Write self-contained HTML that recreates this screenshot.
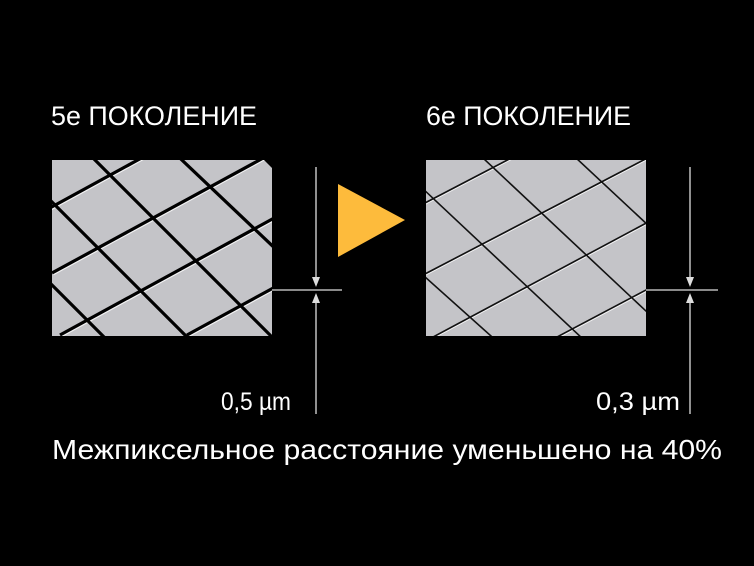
<!DOCTYPE html>
<html><head><meta charset="utf-8"><style>
html,body{margin:0;padding:0;background:#000;}
svg{display:block;}
text{font-family:"Liberation Sans","DejaVu Sans",sans-serif;fill:#fff;}
</style></head><body>
<svg width="754" height="566" viewBox="0 0 754 566" xmlns="http://www.w3.org/2000/svg">
<rect width="754" height="566" fill="#000"/>
<defs>
<clipPath id="c1"><polygon points="52,160 264,160 272,168 272,336 52,336"/></clipPath>
<clipPath id="c2"><rect x="426" y="160" width="220" height="176"/></clipPath>
</defs>
<g clip-path="url(#c1)">
<rect x="52" y="160" width="220" height="176" fill="#c4c4c8"/>
<g stroke="#fff" stroke-width="1.5" transform="translate(1.5,1.5)" opacity="0.8">
<line x1="-60" y1="268" x2="200" y2="126"/>
<line x1="52" y1="273" x2="300" y2="138"/>
<line x1="60" y1="335" x2="320" y2="193"/>
<line x1="187" y1="335" x2="330" y2="257"/>
<line x1="60" y1="125" x2="290" y2="355"/>
<line x1="-10" y1="140" x2="230" y2="380"/>
<line x1="20" y1="253" x2="120" y2="353"/>
<line x1="145" y1="125" x2="340" y2="310"/>
<line x1="230" y1="125" x2="330" y2="220"/>
</g>
<g stroke="#000" stroke-width="3.2">
<line x1="-60" y1="268" x2="200" y2="126"/>
<line x1="52" y1="273" x2="300" y2="138"/>
<line x1="60" y1="335" x2="320" y2="193"/>
<line x1="187" y1="335" x2="330" y2="257"/>
<line x1="60" y1="125" x2="290" y2="355"/>
<line x1="-10" y1="140" x2="230" y2="380"/>
<line x1="20" y1="253" x2="120" y2="353"/>
<line x1="145" y1="125" x2="340" y2="310"/>
<line x1="230" y1="125" x2="330" y2="220"/>
</g>
</g>
<g clip-path="url(#c2)">
<rect x="426" y="160" width="220" height="176" fill="#c4c4c8"/>
<g stroke="#fff" stroke-width="1" transform="translate(1,1)" opacity="0.8">
<line x1="400" y1="216" x2="540" y2="143"/>
<line x1="400" y1="287" x2="680" y2="141"/>
<line x1="420" y1="344" x2="680" y2="205"/>
<line x1="540" y1="346" x2="680" y2="272"/>
<line x1="467" y1="143" x2="680" y2="343"/>
<line x1="405" y1="172" x2="600" y2="355"/>
<line x1="405" y1="259" x2="510" y2="353"/>
<line x1="560" y1="143" x2="680" y2="255"/>
</g>
<g stroke="#111" stroke-width="1.6">
<line x1="400" y1="216" x2="540" y2="143"/>
<line x1="400" y1="287" x2="680" y2="141"/>
<line x1="420" y1="344" x2="680" y2="205"/>
<line x1="540" y1="346" x2="680" y2="272"/>
<line x1="467" y1="143" x2="680" y2="343"/>
<line x1="405" y1="172" x2="600" y2="355"/>
<line x1="405" y1="259" x2="510" y2="353"/>
<line x1="560" y1="143" x2="680" y2="255"/>
</g>
</g>
<polygon points="338,184 405,220 338,257" fill="#fdbb3c"/>
<g stroke="#ddd" stroke-width="1.3" fill="none">
<line x1="316" y1="167" x2="316" y2="284"/>
<line x1="316" y1="298" x2="316" y2="414"/>
<line x1="272" y1="290" x2="342" y2="290"/>
<line x1="690" y1="167" x2="690" y2="284"/>
<line x1="690" y1="298" x2="690" y2="414"/>
<line x1="646" y1="290" x2="718" y2="290"/>
</g>
<g fill="#ddd">
<polygon points="312,277 320,277 316,287"/>
<polygon points="312,303 320,303 316,293"/>
<polygon points="686,277 694,277 690,287"/>
<polygon points="686,303 694,303 690,293"/>
</g>
<text x="51" y="125" font-size="27" textLength="206" lengthAdjust="spacingAndGlyphs">5e ПОКОЛЕНИЕ</text>
<text x="426" y="125" font-size="27" textLength="205" lengthAdjust="spacingAndGlyphs">6e ПОКОЛЕНИЕ</text>
<text x="221" y="410" font-size="25" textLength="70" lengthAdjust="spacingAndGlyphs">0,5 µm</text>
<text x="596" y="410" font-size="25" textLength="84" lengthAdjust="spacingAndGlyphs">0,3 µm</text>
<text x="52" y="459" font-size="28" textLength="670" lengthAdjust="spacingAndGlyphs">Межпиксельное расстояние уменьшено на 40%</text>
</svg>
</body></html>
